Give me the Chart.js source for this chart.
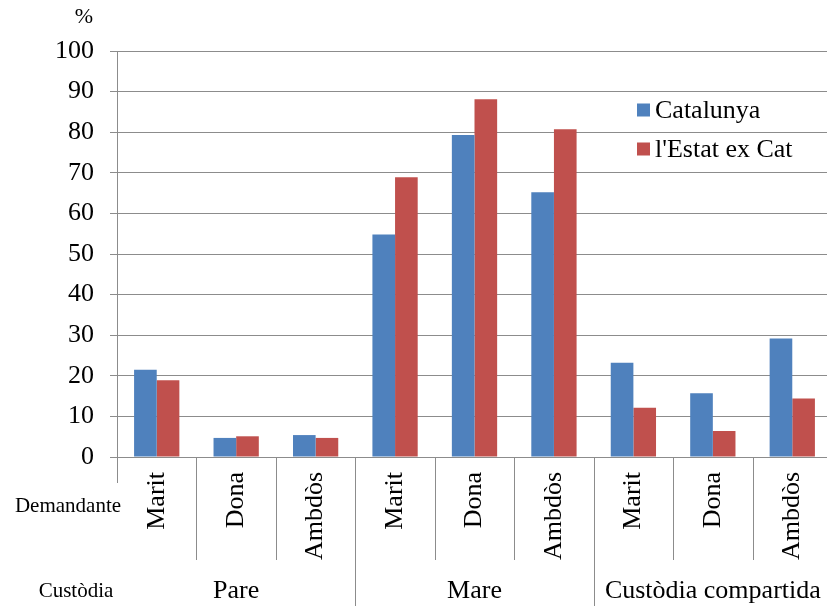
<!DOCTYPE html>
<html>
<head>
<meta charset="utf-8">
<script src="https://cdn.jsdelivr.net/npm/chart.js@4.4.1/dist/chart.umd.min.js"></script>
<style>
  html, body { margin: 0; padding: 0; background: #fff; overflow: hidden; }
  #wrap { width: 833px; height: 606px; }
</style>
</head>
<body>
<div id="wrap"><canvas id="grafik"></canvas></div>
<script>
// dades
const demandant = ['Marit', 'Dona', 'Ambdòs', 'Marit', 'Dona', 'Ambdòs', 'Marit', 'Dona', 'Ambdòs'];
const custodia = ['Pare', 'Mare', 'Custòdia compartida'];
const catalunya = [21.5, 4.7, 5.4, 54.8, 79.3, 65.2, 23.2, 15.7, 29.2];
const estat_ex_cat = [18.9, 5.1, 4.7, 68.9, 88.1, 80.7, 12.1, 6.4, 14.4];
const y_ticks = [0, 10, 20, 30, 40, 50, 60, 70, 80, 90, 100];

const font_serif = '"Liberation Serif", "Times New Roman", serif';
const color_grid = '#8c8c8c';

// plugin utk etiquetes de dos nivells, el "%" i la llegenda
const extraPlugin = {
    id: 'extra',
    afterDraw(chart) {
        const ctx = chart.ctx;
        const x = chart.scales.x;
        const area = chart.chartArea;
        const w = x.getPixelForValue(1) - x.getPixelForValue(0);
        const per_grup = demandant.length / custodia.length;

        ctx.save();
        ctx.strokeStyle = color_grid;
        ctx.lineWidth = 1;

        // linies separadores
        for (let i = 0; i <= demandant.length; i++) {
            const px = Math.round(x.getPixelForValue(i) - w / 2) + 0.5;
            let fins = 560;
            if (i === 0) fins = 483;
            else if (i % per_grup === 0) fins = 606;
            ctx.beginPath();
            ctx.moveTo(px, area.bottom);
            ctx.lineTo(px, fins);
            ctx.stroke();
        }

        ctx.fillStyle = '#000';
        ctx.textBaseline = 'middle';

        // grups de custodia
        ctx.font = '26px ' + font_serif;
        ctx.textAlign = 'center';
        for (let g = 0; g < custodia.length; g++) {
            const c = (x.getPixelForValue(g * per_grup) + x.getPixelForValue(g * per_grup + per_grup - 1)) / 2;
            ctx.fillText(custodia[g], c, 591);
        }

        // titols dels nivells
        ctx.font = '21px ' + font_serif;
        ctx.fillText('Demandante', 68, 506);
        ctx.fillText('Custòdia', 76, 591);

        // %
        ctx.font = '22px ' + font_serif;
        ctx.fillText('%', 84, 17);

        // llegenda
        ctx.font = '26px ' + font_serif;
        ctx.textAlign = 'left';
        chart.data.datasets.forEach(function (ds, k) {
            const cy = 110 + k * 39;
            ctx.fillStyle = ds.backgroundColor;
            ctx.fillRect(637, cy - 6.5, 13, 13);
            ctx.fillStyle = '#000';
            ctx.fillText(ds.label, 655, cy + 1);
        });

        ctx.restore();
    }
};

const ctx_grafik = document.getElementById('grafik');
new Chart(ctx_grafik, {
    type: 'bar',
    data: {
        labels: demandant,
        datasets: [{
            label: 'Catalunya',
            data: catalunya,
            backgroundColor: '#4f81bd',
            categoryPercentage: 0.57,
            barPercentage: 1.0
        }, {
            label: "l'Estat ex Cat",
            data: estat_ex_cat,
            backgroundColor: '#c0504d',
            categoryPercentage: 0.57,
            barPercentage: 1.0
        }]
    },
    options: {
        responsive: true,
        maintainAspectRatio: false,
        animation: false,
        layout: { padding: { top: 51, right: 1, left: 0, bottom: 0 } },
        plugins: {
            legend: { display: false },
            tooltip: { enabled: false }
        },
        scales: {
            x: {
                grid: { display: false },
                border: { display: false },
                ticks: {
                    autoSkip: false,
                    minRotation: 90,
                    maxRotation: 90,
                    padding: 7,
                    color: '#000',
                    font: { family: font_serif, size: 26 }
                },
                afterFit: function (s) {
                    s.height = 149;
                    s.paddingLeft = 0;
                    s.paddingRight = 0;
                }
            },
            y: {
                min: 0,
                max: 100,
                afterBuildTicks: function (s) { s.ticks = y_ticks.map(v => ({ value: v })); },
                grid: { color: color_grid, lineWidth: 1, tickLength: 7 },
                border: { color: color_grid },
                ticks: {
                    padding: 16,
                    color: '#000',
                    font: { family: font_serif, size: 26 }
                },
                afterFit: function (s) { s.width = 117; }
            }
        }
    },
    plugins: [extraPlugin]
});
</script>
</body>
</html>
